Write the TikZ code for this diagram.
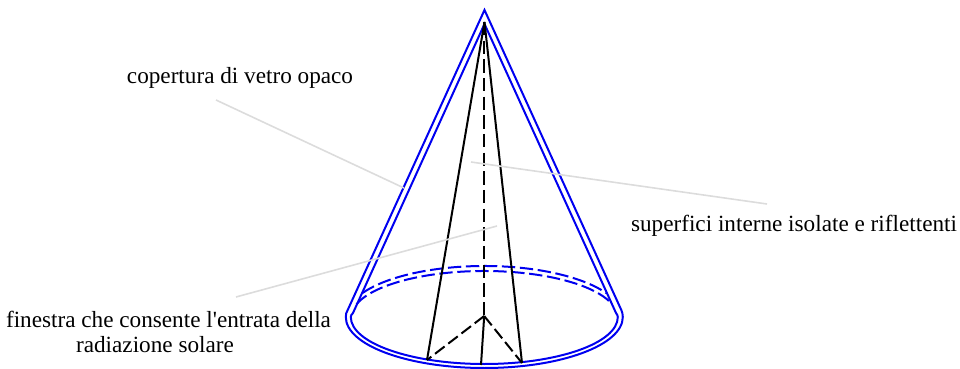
\documentclass[tikz,border=0pt]{standalone}
\usepackage{fontspec}
\usetikzlibrary{calc}
\setmainfont[Ligatures=TeXOff]{Liberation Serif}
\definecolor{coneblue}{RGB}{0,0,240}
\definecolor{leadgrey}{RGB}{220,220,220}
\tikzset{
  x=0.75pt,y=0.75pt,
  shell/.style={draw=coneblue,line width=1.5pt,line join=miter},
  rib/.style={draw=black,line width=1.5pt},
  leader/.style={draw=leadgrey,line width=1.2pt},
  lbl/.style={inner sep=0pt,font=\fontsize{17.4pt}{18.8pt}\selectfont,align=center}
}
\begin{document}
\begin{tikzpicture}
\useasboundingbox (0,0) rectangle (960,368);
% labels
\node[lbl] (top) at (240,290) {copertura di vetro opaco};
\node[lbl] (right) at (794,142) {superfici interne isolate e riflettenti};
\node[lbl] (leftA) at (168.5,48.5) {finestra che consente l'entrata della};
\node[lbl] (leftB) at (155,23.5) {radiazione solare};
% cone anchors
\coordinate (c) at (484.3,51);
\coordinate (apexO) at (484.5,358);
\coordinate (apexS) at (484.5,344);
\coordinate (apexI) at (484.5,346);
\coordinate (base) at (484.2,52);
\coordinate (p1) at (427,8);
\coordinate (p2) at (481,3);
\coordinate (p3) at (522,5);
\coordinate (apexD) at (484.2,346);
% shells
\draw[shell] (apexO) -- (347.7,58) .. controls (346.4,56) and (345.8,54) .. (345.8,51) arc[start angle=180,end angle=360,x radius=138.5,y radius=51] .. controls (622.8,54) and (622.2,56) .. (621.3,58) -- cycle;
\draw[shell] (apexS) -- (353,55) .. controls (351.6,53.5) and (350.8,52.5) .. (350.8,51) arc[start angle=180,end angle=360,x radius=133.5,y radius=47] .. controls (617.8,52.5) and (617,53.5) .. (616,55) -- cycle;
\draw[shell,dash pattern=on 10pt off 3.5pt] ($(c)+(152:138 and 51)$) arc[start angle=152,end angle=28,x radius=138,y radius=51];
\draw[shell,dash pattern=on 10pt off 3.5pt] ($(c)+(164:133 and 46)$) arc[start angle=164,end angle=16,x radius=133,y radius=46];
% ribs
\draw[rib] (apexI) -- (p1);
\draw[rib] (apexI) -- (p3);
\draw[rib] (base) -- (p2);
\draw[rib,dash pattern=on 10pt off 4pt] (apexD) -- (base);
\draw[rib,dash pattern=on 9pt off 3.5pt] (base) -- (p1);
\draw[rib,dash pattern=on 9pt off 3.5pt] (base) -- (p3);
% leaders
\coordinate (l1a) at (216,268); \coordinate (l1b) at (404,180);
\coordinate (l2a) at (767,164); \coordinate (l2b) at (471,206);
\coordinate (l3a) at (236,71);  \coordinate (l3b) at (497,142);
\draw[leader] (l1a) -- (l1b);
\draw[leader] (l2a) -- (l2b);
\draw[leader] (l3a) -- (l3b);
\end{tikzpicture}
\end{document}
